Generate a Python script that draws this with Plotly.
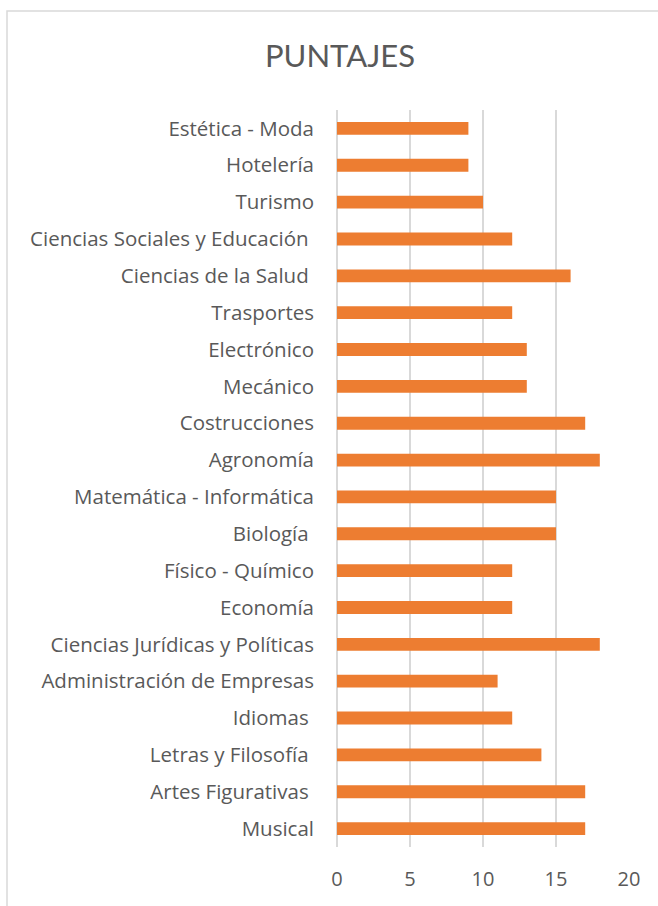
import plotly.graph_objects as go

categories = [
    "Estética - Moda", "Hotelería", "Turismo", "Ciencias Sociales y Educación\u00a0",
    "Ciencias de la Salud\u00a0", "Trasportes", "Electrónico", "Mecánico",
    "Costrucciones", "Agronomía", "Matemática - Informática", "Biología\u00a0",
    "Físico - Químico", "Economía", "Ciencias Jurídicas y Políticas",
    "Administración de Empresas", "Idiomas\u00a0", "Letras y Filosofía\u00a0",
    "Artes Figurativas\u00a0", "Musical",
]
values = [9, 9, 10, 12, 16, 12, 13, 13, 17, 18, 15, 15, 12, 12, 18, 11, 12, 14, 17, 17]
x_ticks = [0, 5, 10, 15, 20]

W, H = 658, 906
L, R, T, B = 337, 29, 110, 59
pw, ph = W - L - R, H - T - B

fig = go.Figure(go.Bar(
    x=values, y=categories, orientation="h",
    marker=dict(color="#ED7D31", line=dict(width=0)),
    width=0.35,
))

fig.update_layout(
    width=W, height=H,
    margin=dict(l=L, r=R, t=T, b=B),
    paper_bgcolor="white", plot_bgcolor="white",
    font=dict(family="Open Sans, sans-serif", color="#595959"),
    title=dict(text="PUNTAJES", x=(340 - L) / pw, xref="paper", xanchor="center",
               y=1 - 56 / H, yanchor="middle", yref="container",
               font=dict(size=31, color="#595959", family="Lato, sans-serif")),
    showlegend=False,
    bargap=0.65,
    shapes=[dict(type="rect", xref="paper", yref="paper",
                 x0=(7 - L) / pw, x1=2.0, y0=-1.0, y1=1 + (T - 11) / ph,
                 line=dict(color="#D9D9D9", width=1.5), fillcolor="rgba(0,0,0,0)",
                 layer="below")],
)
fig.update_xaxes(
    range=[0, 20], tickvals=x_ticks, ticktext=[str(v) for v in x_ticks],
    showgrid=True, gridcolor="#D9D9D9", gridwidth=1.5,
    zeroline=True, zerolinecolor="#D9D9D9", zerolinewidth=1.5,
    showline=False, ticks="", tickfont=dict(size=20, color="#595959", family="Open Sans, sans-serif"),
    ticklabelstandoff=18,
)
fig.update_yaxes(
    autorange="reversed", showgrid=False, showline=False, ticks="",
    tickfont=dict(size=20.5, color="#595959", family="Open Sans, sans-serif"), ticklabelstandoff=22,
)
fig.write_html("out.html", config={"displayModeBar": False})

with open("out.html", encoding="utf-8") as f:
    html = f.read()
html = html.replace("<head>", "<head><style>html,body{margin:0;padding:0;overflow:hidden;}</style>", 1)
with open("out.html", "w", encoding="utf-8") as f:
    f.write(html)
